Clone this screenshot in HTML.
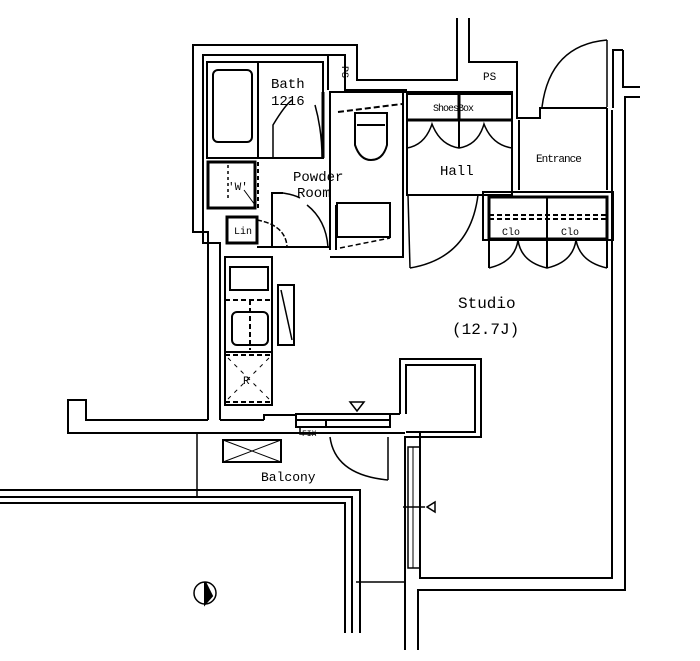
<!DOCTYPE html>
<html><head><meta charset="utf-8"><style>
html,body{margin:0;padding:0;background:#fff;}
svg{display:block;}
text{font-family:"Liberation Mono","DejaVu Sans Mono",monospace;fill:#000;}
</style></head><body>
<svg width="700" height="661" viewBox="0 0 700 661" xmlns="http://www.w3.org/2000/svg">
<g fill="none" stroke="#000" stroke-width="2">
<!-- outer walls top/left -->
<polyline points="208,420 208,232 193,232 193,45 357,45 357,80 457,80 457,18"/>
<polyline points="220,420 220,243 203,243 203,55 345,55 345,90 407,90"/>
<polyline points="469,18 469,62 517,62 517,90 517,118 540,118 540,108 607,108"/>
<polyline points="623,50 613,50 613,108"/>
<polyline points="623,50 623,87 640,87"/>
<polyline points="640,97 625,97 625,590 418,590 418,650"/>
<polyline points="405,650 405,437 481,437 481,359 400,359 400,414"/>
<polyline points="406,432 475,432 475,365 406,365 406,414"/>
<polyline points="420,432 420,578 612,578 612,110"/>
<!-- left lower wall -->
<polyline points="208,420 86,420 86,400 68,400 68,433 405,433"/>
<polyline points="220,420 264,420"/>
<!-- bath -->
<rect x="207" y="62" width="116" height="96"/>
<rect x="213" y="70" width="39" height="72" rx="5"/>
<line x1="258" y1="62" x2="258" y2="158"/>
<line x1="323" y1="92" x2="323" y2="158" stroke-width="3"/>
<path d="M273,158 L273,125 Q285,105 292,100" stroke-width="1.5"/>
<path d="M315,105 Q322,130 322,158" stroke-width="1.5"/>
<polyline points="328,55 328,90"/>
<!-- washer -->
<rect x="208" y="162" width="47" height="46" stroke-width="3"/>
<line x1="258" y1="162" x2="258" y2="210" stroke-dasharray="4,3"/>
<line x1="228" y1="165" x2="228" y2="200" stroke-dasharray="3,3" stroke-width="1.5"/>
<line x1="244" y1="190" x2="255" y2="205" stroke-width="1"/>
<!-- lin -->
<rect x="227" y="217" width="30" height="26" stroke-width="3"/>
<path d="M257,220 Q285,225 287,246" stroke-width="1.5" stroke-dasharray="5,2"/>
<!-- powder -->
<polyline points="272,247 272,193 283,193"/>
<path d="M283,193 Q295,195 300,198" stroke-width="1.5"/>
<line x1="257" y1="247" x2="330" y2="247"/>
<path d="M307,205 Q326,220 328,247" stroke-width="1.5"/>
<polyline points="330,250 330,92 407,92" stroke-width="2"/>
<line x1="336" y1="205" x2="336" y2="250"/>
<polyline points="330,257 403,257 403,92"/>
<rect x="337" y="203" width="53" height="34"/>
<line x1="338" y1="112" x2="402" y2="104" stroke-dasharray="6,3"/>
<path d="M355,113 L355,145 Q360,160 371,160 Q383,160 387,145 L387,113 Z"/>
<line x1="357" y1="125" x2="385" y2="125"/>
<path d="M340,248 L390,238" stroke-dasharray="5,3" stroke-width="1.5"/>
<!-- hall -->
<rect x="407" y="92" width="105" height="103" stroke-width="2"/>
<line x1="407" y1="93" x2="512" y2="93" stroke-width="4"/>
<line x1="407" y1="120" x2="512" y2="120" stroke-width="3"/>
<line x1="459" y1="93" x2="459" y2="120" stroke-width="3"/>
<line x1="459" y1="120" x2="459" y2="148"/>
<path d="M407,148 Q425,145 432,124 Q440,145 459,148 Q478,145 484,124 Q492,145 512,148" stroke-width="1.5"/>
<line x1="408" y1="195" x2="410" y2="268" stroke-width="1.5"/>
<path d="M410,268 Q470,258 478,195" stroke-width="1.5"/>
<!-- entrance -->
<line x1="512" y1="110" x2="512" y2="190"/>
<line x1="519" y1="120" x2="519" y2="190"/>
<line x1="607" y1="40" x2="607" y2="107" stroke-width="1.5"/>
<path d="M607,40 Q550,45 542,107" stroke-width="1.5"/>
<line x1="607" y1="108" x2="607" y2="190"/>
<!-- closets -->
<rect x="483" y="192" width="130" height="48"/>
<rect x="489" y="197" width="118" height="42" stroke-width="3"/>
<line x1="547" y1="197" x2="547" y2="268" stroke-width="2"/>
<line x1="489" y1="215" x2="607" y2="215" stroke-dasharray="5,3"/>
<line x1="489" y1="219" x2="607" y2="219" stroke-dasharray="5,3"/>
<line x1="489" y1="240" x2="489" y2="268"/>
<line x1="607" y1="240" x2="607" y2="268"/>
<path d="M489,268 Q515,262 518,240 Q521,262 547,268 Q573,262 576,240 Q580,262 607,268" stroke-width="1.5"/>
<!-- kitchen -->
<rect x="225" y="257" width="47" height="148" stroke-width="2"/>
<rect x="230" y="267" width="38" height="23" stroke-width="2"/>
<line x1="225" y1="300" x2="272" y2="300" stroke-dasharray="5,3"/>
<rect x="232" y="312" width="36" height="33" rx="5" stroke-width="2"/>
<line x1="250" y1="300" x2="250" y2="350" stroke-dasharray="5,3"/>
<line x1="225" y1="352" x2="272" y2="352"/>
<rect x="225" y="355" width="47" height="47" stroke-dasharray="5,3"/>
<line x1="228" y1="358" x2="269" y2="399" stroke-dasharray="4,5" stroke-width="1"/>
<line x1="269" y1="358" x2="228" y2="399" stroke-dasharray="4,5" stroke-width="1"/>
<rect x="278" y="285" width="16" height="60"/>
<line x1="281" y1="290" x2="292" y2="340" stroke-width="1.5"/>
<polyline points="264,420 264,415 296,415"/>
<!-- window -->
<rect x="296" y="414" width="94" height="6"/>
<rect x="296" y="420" width="94" height="7"/>
<line x1="326" y1="420" x2="326" y2="427"/>
<polyline points="300,427 300,434 316,434" stroke-width="1.5"/>
<polygon points="350,402 364,402 357,411" stroke-width="1.5"/>
<line x1="390" y1="414" x2="400" y2="414"/>
<!-- balcony -->
<line x1="197" y1="433" x2="197" y2="497" stroke-width="1.5"/>
<path d="M330,437 Q335,475 388,480" stroke-width="1.5"/>
<line x1="388" y1="437" x2="388" y2="480" stroke-width="1.5"/>
<rect x="223" y="440" width="58" height="22"/>
<line x1="223" y1="440" x2="281" y2="462" stroke-width="1"/>
<line x1="281" y1="440" x2="223" y2="462" stroke-width="1"/>
<polyline points="0,490 360,490 360,633"/>
<polyline points="0,497 352,497 352,633"/>
<polyline points="0,503 345,503 345,633"/>
<line x1="356" y1="582" x2="405" y2="582" stroke-width="1.5"/>
<rect x="408" y="447" width="12" height="121" stroke-width="1.5"/>
<line x1="413" y1="447" x2="413" y2="568" stroke-width="1"/>
<line x1="403" y1="507" x2="425" y2="507" stroke-width="1.5"/>
<polygon points="427,507 435,502 435,512" stroke-width="1.5"/>
<!-- north -->
<circle cx="205" cy="593" r="11" stroke-width="1.5"/>
<path d="M205,582 L212,596 L205,604 Z" fill="#000"/>
</g>
<text x="271" y="88" font-size="14">Bath</text>
<text x="271" y="105" font-size="14">1216</text>
<text x="334" y="70" font-size="10" transform="rotate(90 340 72)">PS</text>
<text x="483" y="80" font-size="11">PS</text>
<text x="433" y="111" font-size="10" letter-spacing="-1">ShoesBox</text>
<text x="440" y="175" font-size="14">Hall</text>
<text x="536" y="162" font-size="11" letter-spacing="-1">Entrance</text>
<text x="293" y="181" font-size="14">Powder</text>
<text x="297" y="197" font-size="14">Room</text>
<text x="228" y="190" font-size="11">'W'</text>
<text x="234" y="234" font-size="10">Lin</text>
<text x="502" y="235" font-size="10">Clo</text>
<text x="561" y="235" font-size="10">Clo</text>
<text x="243" y="384" font-size="11">R</text>
<text x="458" y="308" font-size="16">Studio</text>
<text x="452" y="334" font-size="16">(12.7J)</text>
<text x="302" y="436" font-size="8">FIX</text>
<text x="261" y="481" font-size="13">Balcony</text>
</svg>
</body></html>
